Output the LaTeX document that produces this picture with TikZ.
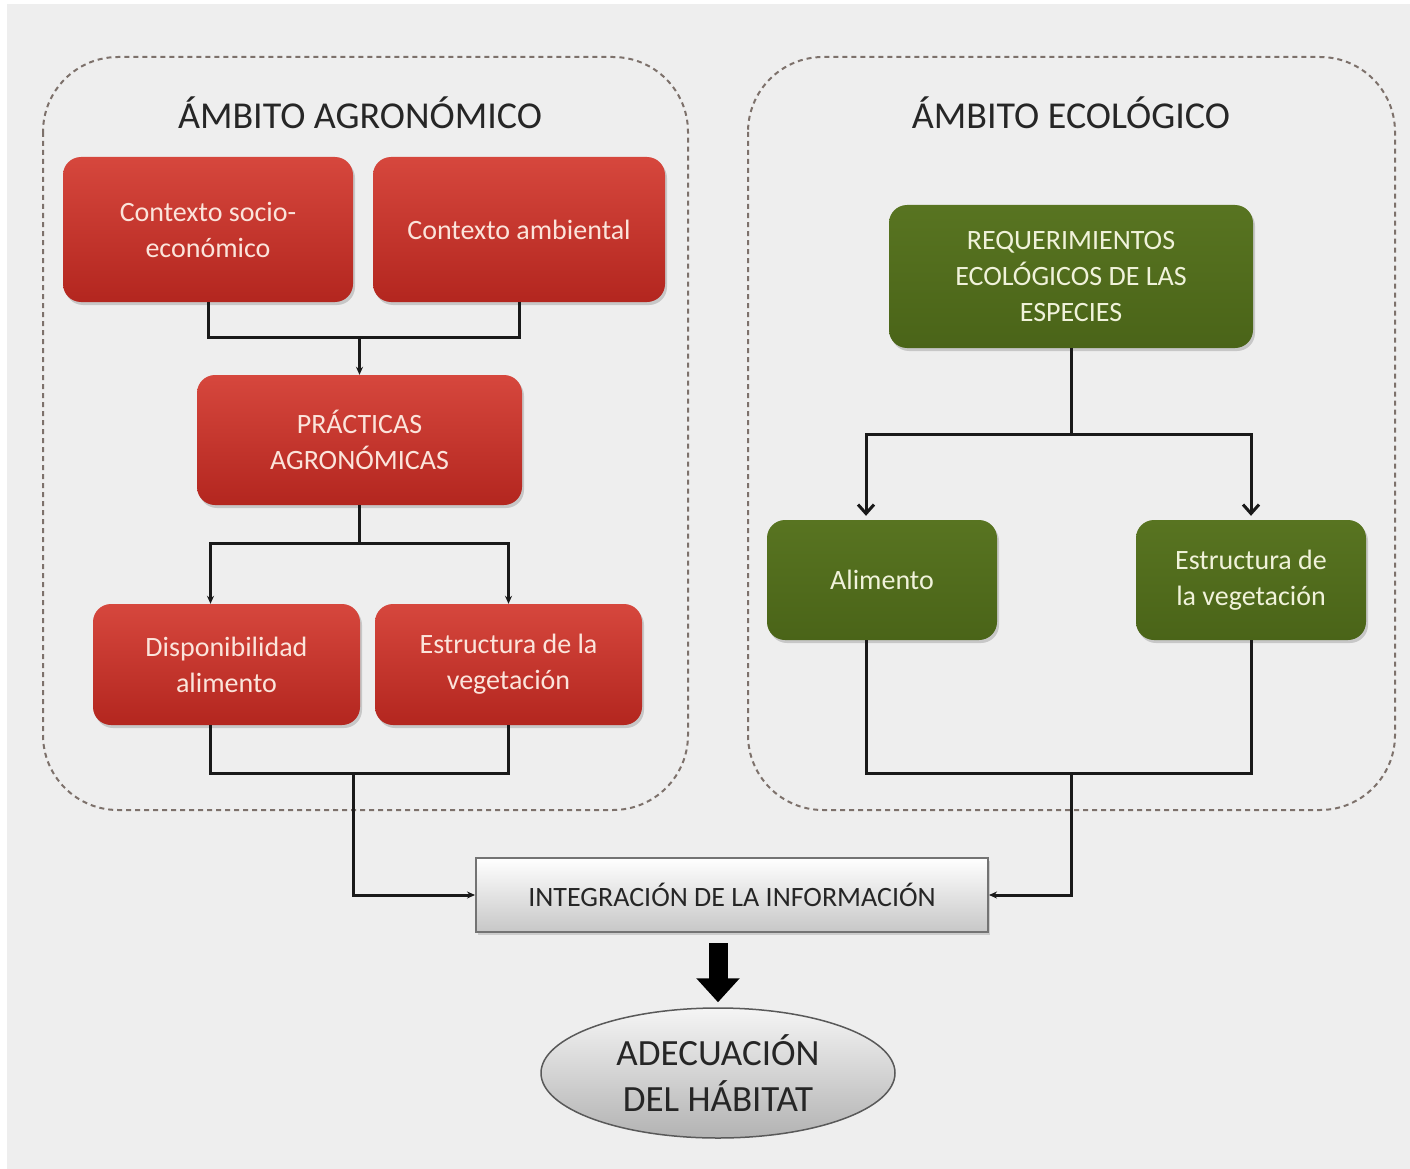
\documentclass[tikz,border=0pt]{standalone}
\usepackage{fontspec}
\setmainfont{Carlito}
\usetikzlibrary{arrows.meta,shapes.geometric,shadows}

\definecolor{bggray}{HTML}{EEEEEE}
\definecolor{zonegray}{HTML}{7D716B}
\definecolor{redtop}{HTML}{D6473D}
\definecolor{redbot}{HTML}{B3261F}
\definecolor{redtext}{HTML}{FBE4DB}
\definecolor{greentop}{HTML}{587421}
\definecolor{greenbot}{HTML}{4A6418}
\definecolor{greentext}{HTML}{F0F2DA}
\definecolor{inkgray}{HTML}{262626}

\begin{document}
\begin{tikzpicture}[x=1pt,y=-1pt,
    zone/.style={draw=zonegray, line width=2pt, dash pattern=on 5pt off 4pt, rounded corners=75pt},
    zonetitle/.style={text=inkgray, font=\fontsize{38}{44}\selectfont},
    redbox/.style={rounded corners=18pt, top color=redtop, bottom color=redbot, text=redtext,
        align=center, inner sep=0pt, font=\fontsize{28}{36}\selectfont,
        drop shadow={shadow xshift=2pt, shadow yshift=-3pt, opacity=0.35}},
    greenbox/.style={redbox, top color=greentop, bottom color=greenbot, text=greentext},
    graybox/.style={draw=black!55, line width=2pt, top color=white, bottom color=black!22,
        text=inkgray, inner sep=0pt, font=\fontsize{28}{34}\selectfont,
        drop shadow={shadow xshift=2pt, shadow yshift=-3pt, opacity=0.3}},
    link/.style={draw=black!90, line width=3pt},
    arr/.style={link, -{Stealth[length=8pt,width=7pt]}},
    garr/.style={link, -{Straight Barb[length=9pt,width=16pt]}}]

    \useasboundingbox (0,0) rectangle (1410,1169);
    \fill[bggray] (7,4) rectangle (1410,1169);

    % ambitos
    \draw[zone] (43,57) rectangle (688,810);
    \draw[zone] (748,57) rectangle (1395,810);
    \node[zonetitle] (tagro) at (360,113) {ÁMBITO AGRONÓMICO};
    \node[zonetitle] (teco) at (1071,113) {ÁMBITO ECOLÓGICO};

    % agronomico
    \node[redbox, minimum width=290pt, minimum height=145pt] (ctxsoc) at (208,229.5) {Contexto socio-\\económico};
    \node[redbox, minimum width=292pt, minimum height=145pt] (ctxamb) at (519,229.5) {Contexto ambiental};
    \node[redbox, minimum width=325pt, minimum height=130pt] (pract) at (359.5,440) {PRÁCTICAS\\AGRONÓMICAS};
    \node[redbox, minimum width=267pt, minimum height=121pt] (disp) at (226.5,664.5) {Disponibilidad\\alimento};
    \node[redbox, minimum width=267pt, minimum height=121pt] (estra) at (508.5,664.5) {Estructura de la\\vegetación};

    \draw[link] (ctxsoc.south) -- ++(0,35) -| (ctxamb.south);
    \draw[arr] (pract.north |- 0,337) -- (pract.north);
    \draw[link] (pract.south) -- ++(0,38) coordinate (jpract);
    \draw[arr] (jpract) -| ([xshift=-16pt]disp.north);
    \draw[arr] (jpract) -| (estra.north);
    \draw[link] ([xshift=-16pt]disp.south) -- ++(0,48) -| (estra.south);
    \coordinate (jagro) at (353,773);

    % ecologico
    \node[greenbox, minimum width=364pt, minimum height=143pt] (req) at (1071,276.5) {REQUERIMIENTOS\\ECOLÓGICOS DE LAS\\ESPECIES};
    \node[greenbox, minimum width=230pt, minimum height=120pt] (alim) at (882,580) {Alimento};
    \node[greenbox, minimum width=230pt, minimum height=120pt] (estre) at (1251,580) {Estructura de\\la vegetación};

    \draw[link] (req.south) -- ++(0,86) coordinate (jreq);
    \draw[garr] (jreq) -| ([xshift=-16pt,yshift=4pt]alim.north);
    \draw[garr] (jreq) -| ([yshift=4pt]estre.north);
    \draw[link] ([xshift=-16pt]alim.south) -- ++(0,133) -| (estre.south);
    \coordinate (jeco) at (1071,773);

    % integracion
    \node[graybox, minimum width=512pt, minimum height=74pt] (integ) at (732,895) {INTEGRACIÓN DE LA INFORMACIÓN};
    \node[ellipse, draw=black!65, line width=1.5pt, top color=black!4, bottom color=black!30,
        minimum width=354pt, minimum height=130pt, inner sep=0pt, align=center, text=inkgray,
        font=\fontsize{37}{46}\selectfont] (habitat) at (718,1073) {ADECUACIÓN\\DEL HÁBITAT};

    \draw[arr] (jagro) |- (integ.west);
    \draw[arr] (jeco) |- (integ.east);
    \draw[line width=19pt, -{Triangle[length=24pt,width=42pt]}, shorten <=10pt, shorten >=5pt]
        (integ.south -| habitat.north) -- (habitat.north);
\end{tikzpicture}
\end{document}
